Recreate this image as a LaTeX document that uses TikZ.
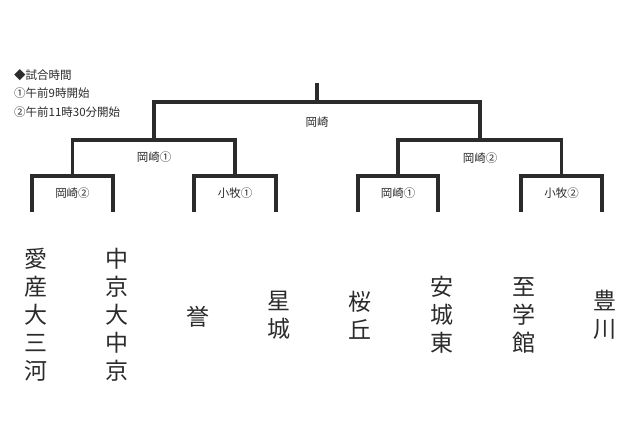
\documentclass[tikz,border=0pt]{standalone}
\usepackage{fontspec}
\setmainfont{Noto Sans CJK JP}
\newfontfamily\jp{Noto Sans CJK JP}
\definecolor{ink}{HTML}{2B2B2B}
\begin{document}
\begin{tikzpicture}[x=1pt,y=-1pt,
  bline/.style={draw=ink,line width=3.2pt,line join=miter,line cap=rect},
  lab/.style={font=\jp\fontsize{11.5}{13}\selectfont,text=ink,inner sep=0pt},
  note/.style={font=\jp\fontsize{11.5}{13}\selectfont,text=ink,inner sep=0pt,anchor=west},
  team/.style={font=\jp\fontsize{23}{28}\selectfont,text=ink,align=center,inner sep=0pt}]
\useasboundingbox[fill=white] (0,0) rectangle (630,430);
% legend
\node[note] (n1) at (14,75) {◆試合時間};
\node[note] (n2) at (14,93) {①午前9時開始};
\node[note] (n3) at (14,112) {②午前11時30分開始};
% first round
\coordinate (a1) at (32,210); \coordinate (a2) at (113,210);
\coordinate (b1) at (194,210); \coordinate (b2) at (276,210);
\coordinate (c1) at (358,210); \coordinate (c2) at (438,210);
\coordinate (d1) at (521,210); \coordinate (d2) at (602,210);
\draw[bline] (a1) -- (32,176) -- (113,176) -- (a2);
\draw[bline] (b1) -- (194,176) -- (276,176) -- (b2);
\draw[bline] (c1) -- (358,176) -- (438,176) -- (c2);
\draw[bline] (d1) -- (521,176) -- (602,176) -- (d2);
% second round
\draw[bline] (72.5,176) -- (72.5,140) -- (235,140) -- (235,176);
\draw[bline] (398,176) -- (398,140) -- (561.5,140) -- (561.5,176);
% final
\draw[bline] (154,140) -- (154,102) -- (480,102) -- (480,140);
\draw[bline] (317,102) -- (317,85);
% venue labels
\node[lab] (v0) at (317,122) {岡崎};
\node[lab] (v1) at (154,157.5) {岡崎①};
\node[lab] (v2) at (480,158) {岡崎②};
\node[lab] (v3) at (72.5,193) {岡崎②};
\node[lab] (v4) at (235,193) {小牧①};
\node[lab] (v5) at (398,193) {岡崎①};
\node[lab] (v6) at (561.5,193) {小牧②};
% teams
\node[team] (t1) at (36,315) {愛\\産\\大\\三\\河};
\node[team] (t2) at (116.5,315) {中\\京\\大\\中\\京};
\node[team] (t3) at (198,317) {誉};
\node[team] (t4) at (279,315) {星\\城};
\node[team] (t5) at (360,315) {桜\\丘};
\node[team] (t6) at (442,315) {安\\城\\東};
\node[team] (t7) at (524,315) {至\\学\\館};
\node[team] (t8) at (605,315) {豊\\川};
\end{tikzpicture}
\end{document}
